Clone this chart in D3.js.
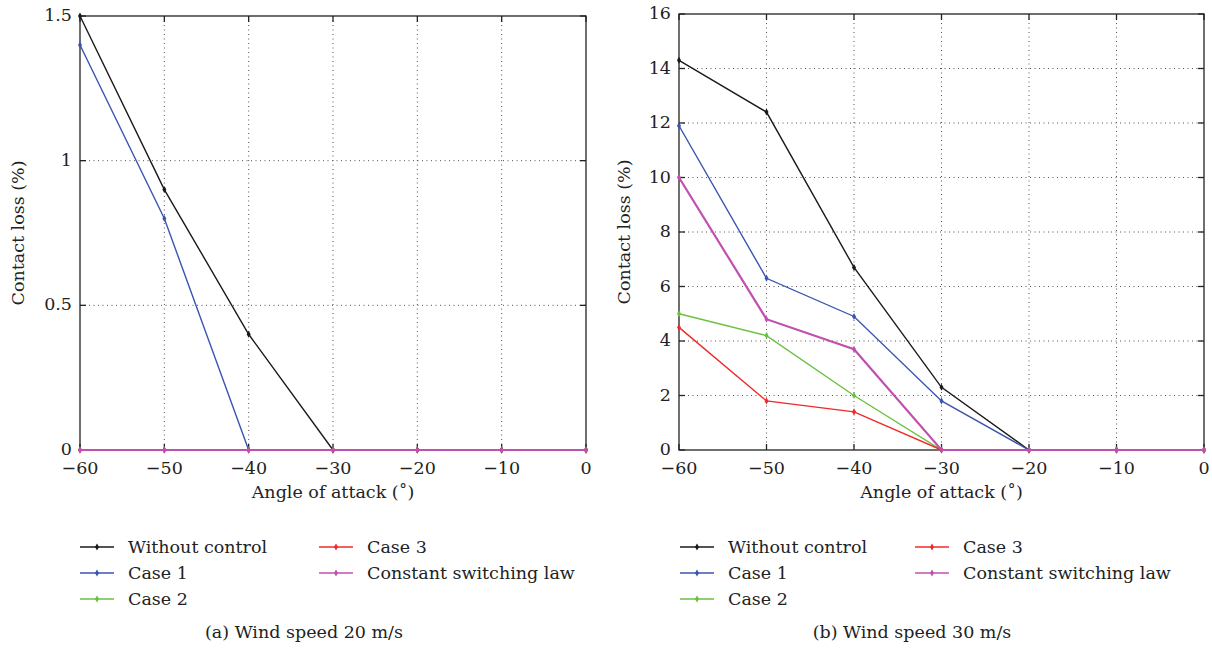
<!DOCTYPE html>
<html>
<head>
<meta charset="utf-8">
<script src="https://cdn.jsdelivr.net/npm/d3@7"></script>
<style>
  body { margin: 0; background: #fff; }
</style>
</head>
<body>
<svg width="1212" height="648"></svg>
<script>
// data
const angles = [-60, -50, -40, -30, -20, -10, 0];
const seriesNames = ["Without control", "Case 1", "Case 2", "Case 3", "Constant switching law"];
const seriesColors = ["#1a1a1a", "#3a55b0", "#6cc040", "#f02a2a", "#c050b0"];

// (a) wind speed 20 m/s
const a_without = [1.5, 0.9, 0.4, 0, 0, 0, 0];
const a_case1 = [1.4, 0.8, 0, 0, 0, 0, 0];
const a_case2 = [0, 0, 0, 0, 0, 0, 0];
const a_case3 = [0, 0, 0, 0, 0, 0, 0];
const a_const = [0, 0, 0, 0, 0, 0, 0];
const a_yTicks = [0, 0.5, 1, 1.5];

// (b) wind speed 30 m/s
const b_without = [14.3, 12.4, 6.7, 2.3, 0, 0, 0];
const b_case1 = [11.9, 6.3, 4.9, 1.8, 0, 0, 0];
const b_case2 = [5.0, 4.2, 2.0, 0, 0, 0, 0];
const b_case3 = [4.5, 1.8, 1.4, 0, 0, 0, 0];
const b_const = [10.0, 4.8, 3.7, 0, 0, 0, 0];
const b_yTicks = [0, 2, 4, 6, 8, 10, 12, 14, 16];

const svg = d3.select("svg");
const FONT = "'DejaVu Serif', 'Liberation Serif', serif";
const FS = 17.5;

function panel(opt) {
  const x = d3.scaleLinear().domain([-60, 0]).range([opt.x0, opt.x1]);
  const y = d3.scaleLinear().domain([0, opt.yMax]).range([450, opt.y0]);
  const g = svg.append("g").style("font-family", FONT);

  // dotted grid
  g.append("g").selectAll("line").data(angles.slice(1, -1)).enter().append("line")
    .attr("x1", d => x(d)).attr("x2", d => x(d))
    .attr("y1", y(opt.yMax)).attr("y2", y(0))
    .attr("stroke", "#555").attr("stroke-width", 1).attr("stroke-dasharray", "1,3.5");
  g.append("g").selectAll("line").data(opt.yTicks.slice(1, -1)).enter().append("line")
    .attr("x1", x(-60)).attr("x2", x(0))
    .attr("y1", d => y(d)).attr("y2", d => y(d))
    .attr("stroke", "#555").attr("stroke-width", 1).attr("stroke-dasharray", "1,3.5");

  // frame
  g.append("rect")
    .attr("x", x(-60)).attr("y", y(opt.yMax))
    .attr("width", x(0) - x(-60)).attr("height", y(0) - y(opt.yMax))
    .attr("fill", "none").attr("stroke", "#222").attr("stroke-width", 1.3);

  // inward ticks
  const tl = 6;
  angles.forEach(a => {
    g.append("line").attr("x1", x(a)).attr("x2", x(a)).attr("y1", y(0)).attr("y2", y(0) - tl)
      .attr("stroke", "#222").attr("stroke-width", 1.3);
    g.append("line").attr("x1", x(a)).attr("x2", x(a)).attr("y1", y(opt.yMax)).attr("y2", y(opt.yMax) + tl)
      .attr("stroke", "#222").attr("stroke-width", 1.3);
  });
  opt.yTicks.forEach(t => {
    g.append("line").attr("x1", x(-60)).attr("x2", x(-60) + tl).attr("y1", y(t)).attr("y2", y(t))
      .attr("stroke", "#222").attr("stroke-width", 1.3);
    g.append("line").attr("x1", x(0)).attr("x2", x(0) - tl).attr("y1", y(t)).attr("y2", y(t))
      .attr("stroke", "#222").attr("stroke-width", 1.3);
  });

  // tick labels
  g.append("g").selectAll("text").data(angles).enter().append("text")
    .attr("x", d => x(d)).attr("y", y(0) + 24)
    .attr("text-anchor", "middle").attr("font-size", FS).attr("fill", "#222")
    .text(d => d < 0 ? "\u2212" + Math.abs(d) : d);
  g.append("g").selectAll("text").data(opt.yTicks).enter().append("text")
    .attr("x", x(-60) - 8).attr("y", d => y(d) + 5)
    .attr("text-anchor", "end").attr("font-size", FS).attr("fill", "#222")
    .text(d => d);

  // axis titles
  g.append("text").attr("x", (x(-60) + x(0)) / 2).attr("y", 498)
    .attr("text-anchor", "middle").attr("font-size", FS).attr("fill", "#222")
    .text("Angle of attack (\u02DA)");
  g.append("text")
    .attr("transform", "translate(" + opt.titleX + "," + (y(0) + y(opt.yMax)) / 2 + ")rotate(-90)")
    .attr("text-anchor", "middle").attr("font-size", FS).attr("fill", "#222")
    .text("Contact loss (%)");

  // series lines and markers
  const line = d3.line().x((d, i) => x(angles[i])).y(d => y(d));
  opt.series.forEach((vals, k) => {
    g.append("path").datum(vals).attr("d", line)
      .attr("fill", "none").attr("stroke", seriesColors[k])
      .attr("stroke-width", k === 4 ? 2.2 : 1.4);
    g.append("g").selectAll("path").data(vals).enter().append("path")
      .attr("transform", (d, i) => "translate(" + x(angles[i]) + "," + y(d) + ")")
      .attr("d", d3.symbol().type(d3.symbolDiamond).size(14))
      .attr("fill", seriesColors[k]);
  });

  // legend
  const lg = svg.append("g").style("font-family", FONT);
  seriesNames.forEach((name, k) => {
    const col = k < 3 ? 0 : 1;
    const row = k < 3 ? k : k - 3;
    const lx = opt.legX[col];
    const ly = 547 + row * 26;
    lg.append("line").attr("x1", lx).attr("x2", lx + 34).attr("y1", ly).attr("y2", ly)
      .attr("stroke", seriesColors[k]).attr("stroke-width", 1.4);
    lg.append("path").attr("transform", "translate(" + (lx + 17) + "," + ly + ")")
      .attr("d", d3.symbol().type(d3.symbolDiamond).size(14)).attr("fill", seriesColors[k]);
    lg.append("text").attr("x", lx + 48).attr("y", ly + 6)
      .attr("font-size", FS).attr("fill", "#222").text(name);
  });

  // caption
  svg.append("text").attr("x", opt.capX).attr("y", 638).style("font-family", FONT)
    .attr("text-anchor", "middle").attr("font-size", 17.5).attr("fill", "#222")
    .text(opt.caption);
}

panel({
  x0: 80, x1: 586, y0: 16, yMax: 1.5, yTicks: a_yTicks, titleX: 24,
  series: [a_without, a_case1, a_case2, a_case3, a_const],
  legX: [80, 319], capX: 304, caption: "(a)  Wind speed 20 m/s"
});
panel({
  x0: 679, x1: 1204, y0: 14, yMax: 16, yTicks: b_yTicks, titleX: 630,
  series: [b_without, b_case1, b_case2, b_case3, b_const],
  legX: [680, 915], capX: 912, caption: "(b)  Wind speed 30 m/s"
});
</script>
</body>
</html>
